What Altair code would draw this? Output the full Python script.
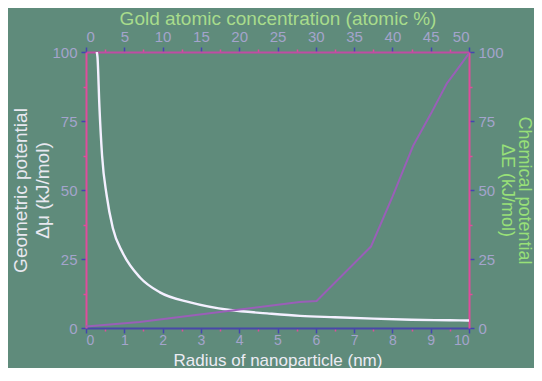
import altair as alt
import pandas as pd

# Geometric potential (left axis) vs radius of nanoparticle (bottom axis)
radius_nm = [0.28, 0.30, 0.35, 0.42, 0.54, 0.70, 0.96, 1.41, 1.93, 2.72, 3.76, 4.73, 5.59, 6.5, 7.5, 8.5, 9.5, 10.0]
geometric_potential = [100.0, 98.2, 80.3, 62.4, 48.0, 36.2, 27.2, 18.3, 12.9, 9.3, 6.5, 5.3, 4.4, 3.9, 3.4, 3.0, 2.8, 2.7]

# Chemical potential (right axis) vs gold atomic concentration (top axis)
gold_conc = [0, 7.0, 27.9, 30.1, 37.2, 40.0, 42.7, 45.0, 47.1, 48.4, 50.0]
chemical_potential = [0.5, 2.2, 9.4, 9.8, 29.5, 47.5, 66.0, 77.5, 88.6, 93.4, 99.5]

bottom_ticks = [i * 0.5 for i in range(21)]
top_ticks = [i * 2.5 for i in range(21)]
y_ticks = [i * 12.5 for i in range(9)]

df1 = pd.DataFrame({"r": radius_nm, "g": geometric_potential})
df2 = pd.DataFrame({"c": gold_conc, "e": chemical_potential})

FONT = "Liberation Sans"
LABEL = "#a4a4cc"
BLUE = "#4444b0"
PINK = "#e04c9c"


def axis(orient, values, major, title, title_color, domain_color, **kw):
    test = f"abs(datum.value % {major}) < 0.001"
    opts = dict(
        orient=orient,
        values=values,
        labelExpr=f"{test} ? format(datum.value, 'd') : ''",
        labelOverlap=False,
        labelFont=FONT,
        labelFontSize=15,
        labelColor=LABEL,
        title=title,
        titleFont=FONT,
        titleFontSize=19,
        titleFontWeight="normal",
        titleColor=title_color,
        grid=False,
        domainColor=domain_color,
        domainWidth=2,
        tickWidth=1.5,
        tickColor={"condition": {"test": test, "value": BLUE}, "value": PINK},
        tickSize={"condition": {"test": test, "value": 5}, "value": 3},
    )
    opts.update(kw)
    return alt.Axis(**opts)


line1 = alt.Chart(df1).mark_line(color="#f4f0ff", strokeWidth=2.4, clip=True,
                                 interpolate="monotone").encode(
    x=alt.X("r:Q", scale=alt.Scale(domain=[0, 10], nice=False, zero=False),
            axis=axis("bottom", bottom_ticks, 1, "Radius of nanoparticle (nm)", "#ececf4", "#4848a8",
                      labelPadding=0, labelFontSize=14, titleFontSize=17,
                      titleBaseline="alphabetic", titleY=37)),
    y=alt.Y("g:Q", scale=alt.Scale(domain=[0, 100], nice=False),
            axis=axis("left", y_ticks, 25, ["Geometric potential", "Δμ (kJ/mol)"], "#e8e8f0", PINK,
                      labelPadding=4, titlePadding=-1, titleLineHeight=22)),
)

line2 = alt.Chart(df2).mark_line(color="#9a5fb8", strokeWidth=2, clip=True).encode(
    x=alt.X("c:Q", scale=alt.Scale(domain=[0, 50], nice=False, zero=False),
            axis=axis("top", top_ticks, 5, "Gold atomic concentration (atomic %)", "#a8dc8c", "#c04ca4",
                      labelPadding=3, titleBaseline="alphabetic", titleY=-28)),
    y=alt.Y("e:Q", scale=alt.Scale(domain=[0, 100], nice=False),
            axis=axis("right", y_ticks, 25, ["Chemical potential", "ΔE (kJ/mol)"], "#98e078", PINK,
                      labelPadding=4, titlePadding=-6, titleFontSize=18, titleLineHeight=17)),
)

chart = alt.layer(line1, line2).resolve_scale(
    x="independent", y="independent"
).properties(
    width=383,
    height=276,
    autosize="none",
    padding={"left": 78, "top": 44, "right": 65, "bottom": 40},
    background="#5f8b7b",
).configure_view(stroke=None)

chart.save("out.html", embed_options={"renderer": "svg", "actions": False})
